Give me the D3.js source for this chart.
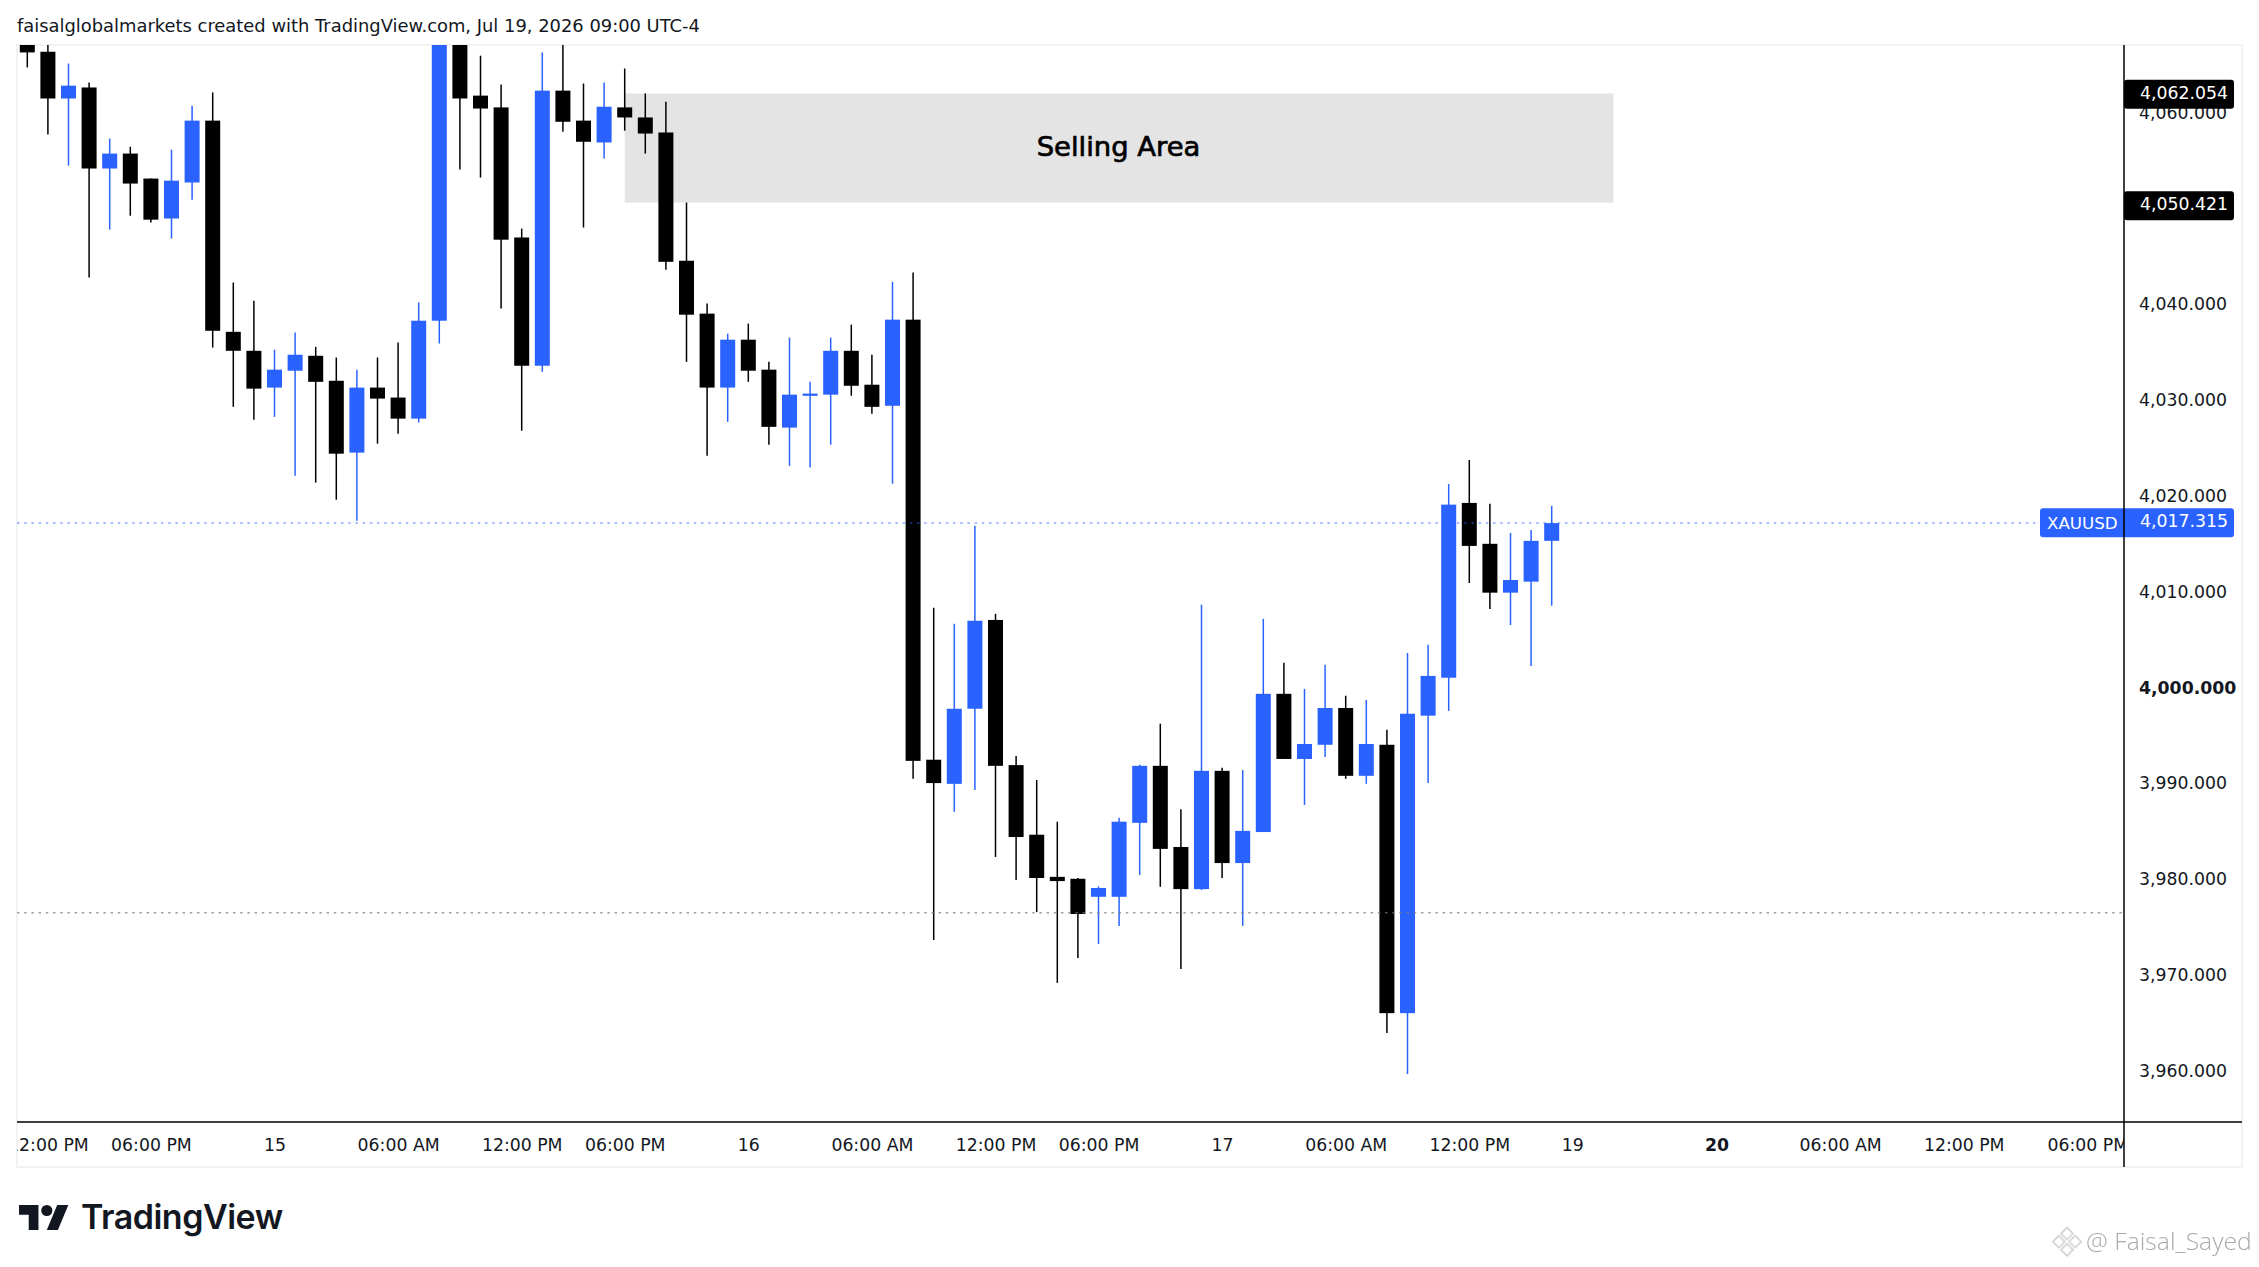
<!DOCTYPE html>
<html>
<head>
<meta charset="utf-8">
<script src="https://cdn.jsdelivr.net/npm/d3@7"></script>
<style>
  html, body { margin: 0; background: #fff; }
  svg { display: block; }
  text { font-family: "DejaVu Sans", sans-serif; fill: #131722; }
  .axis path, .axis line { display: none; }
</style>
</head>
<body>
<div id="chart"></div>
<script>
// XAUUSD candles
const opens = [4067.5,4066.23,4061.35,4062.5,4054.04,4055.6,4052.99,4048.82,4052.58,4059.04,
  4036.99,4035.01,4031.17,4032.93,4034.49,4031.88,4024.38,4031.17,4030.13,4027.93,
  4038.15,4069,4061.65,4060.42,4046.84,4033.45,4062.17,4059.04,4056.76,4060.42,
  4059.37,4057.8,4044.41,4038.89,4031.17,4036.17,4033.04,4026.99,4030.31,4030.43,
  4035.01,4031.47,4029.27,4038.26,3992.32,3989.8,3997.64,4006.91,3991.76,3984.49,
  3980.09,3979.89,3978.01,3978.01,3985.73,3991.68,3983.21,3978.81,3991.16,3981.53,
  3984.77,3999.2,3992.4,3993.88,3997.72,3990.64,3993.88,3965.86,3996.92,4000.88,
  4019.13,4014.86,4009.76,4010.91,4015.17];
const highs = [4069,4068.5,4065,4063.03,4057.17,4056.31,4052.99,4056.01,4060.6,4061.98,
  4042.14,4040.24,4035.13,4036.92,4035.42,4034.31,4033.04,4034.31,4035.87,4040.05,
  4070,4071,4065.82,4062.8,4047.77,4066.16,4068,4062.91,4063.03,4064.48,
  4061.87,4061.01,4050.49,4039.94,4036.8,4037.85,4033.86,4036.39,4031.77,4036.39,
  4037.74,4034.6,4042.21,4043.18,4008.19,4006.51,4016.74,4007.55,3992.72,3990.2,
  3985.85,3979.97,3979.09,3986.25,3991.8,3996.08,3987.16,4008.51,3991.48,3991.24,
  4007.03,4002.43,3999.71,4002.23,3999,3998.56,3995.44,4003.47,4004.31,4021.1,
  4023.61,4019.04,4016,4016.31,4018.82];
const lows = [4064.59,4057.58,4054.34,4042.66,4047.66,4049.11,4048.4,4046.73,4050.79,4035.35,
  4029.16,4027.82,4028.11,4021.96,4021.25,4019.46,4017.26,4025.32,4026.36,4027.52,
  4035.76,4053.93,4053.1,4039.42,4026.66,4032.81,4057.88,4047.88,4055.08,4057.99,
  4055.6,4043.48,4033.86,4024.05,4027.59,4031.77,4025.2,4023,4022.82,4025.2,
  4030.31,4028.45,4021.14,3990.32,3973.49,3986.88,3989.16,3982.17,3979.77,3976.41,
  3969.02,3971.62,3973.09,3974.97,3980.29,3979.05,3970.46,3978.73,3979.97,3974.97,
  3984.77,3992.4,3987.6,3992.6,3990.32,3989.8,3963.78,3959.5,3989.88,3997.41,
  4010.77,4008.05,4006.38,4002.11,4008.4];
const closes = [4066.16,4061.35,4062.69,4054.04,4055.6,4052.47,4048.7,4052.77,4059.04,4037.1,
  4035.01,4031.06,4033.04,4034.6,4031.77,4024.27,4031.17,4030.02,4027.93,4038.15,
  4069,4061.35,4060.3,4046.61,4033.45,4062.17,4058.92,4056.83,4060.49,4059.37,
  4057.69,4044.3,4038.78,4031.17,4036.17,4032.93,4027.07,4030.43,4030.54,4035.01,
  4031.36,4029.16,4038.26,3992.2,3989.88,3997.64,4006.83,3991.68,3984.25,3979.97,
  3979.65,3976.21,3978.93,3985.85,3991.68,3983.01,3978.81,3991.16,3981.53,3984.89,
  3999.2,3992.4,3993.96,3997.72,3990.64,3993.96,3965.86,3997.12,4001.07,4018.95,
  4014.64,4009.76,4011.08,4015.17,4017.02];

const priceTicks = [4060,4040,4030,4020,4010,4000,3990,3980,3970,3960];
const timeTickIndex = [1,6,12,18,24,29,35,41,47,52,58,64,70,75,82,88,94,100];
const timeTickLabels = ['12:00 PM','06:00 PM','15','06:00 AM','12:00 PM','06:00 PM','16','06:00 AM',
  '12:00 PM','06:00 PM','17','06:00 AM','12:00 PM','19','20','06:00 AM','12:00 PM','06:00 PM'];

// label values as printed on the price scale
const zoneTop = 4062.054;
const zoneBottom = 4050.421;
const lastPrice = 4017.315;
const zoneTopDrawn = 4061.87;
const zoneBottomDrawn = 4050.49;
const zoneStart = 29;
const zoneEnd = 77;
const lastLine = 4017.02;
const lowLine = 3976.35;

const width = 2259, height = 1267;
const pane = { left: 17, right: 2124, top: 45, bottom: 1122 };
const blue = '#2962ff';

const svg = d3.select('#chart').append('svg')
  .attr('width', width)
  .attr('height', height);

const xScale = d3.scaleLinear().domain([0, 74]).range([27.3, 1551.7]);
const yScale = d3.scaleLinear().domain([3960, 4040]).range([1069.3, 303]);

const defs = svg.append('defs');
defs.append('clipPath').attr('id', 'pane-clip').append('rect')
  .attr('x', pane.left).attr('y', pane.top)
  .attr('width', pane.right - pane.left).attr('height', pane.bottom - pane.top);
defs.append('clipPath').attr('id', 'time-clip').append('rect')
  .attr('x', pane.left).attr('y', pane.bottom)
  .attr('width', pane.right - pane.left).attr('height', 50);
defs.append('filter').attr('id', 'soft').append('feGaussianBlur').attr('stdDeviation', 0.5);

// Title
svg.append('text')
  .attr('x', 17).attr('y', 32)
  .style('font-size', '17.9px')
  .text('faisalglobalmarkets created with TradingView.com, Jul 19, 2026 09:00 UTC-4');

// Outer frame
svg.append('rect')
  .attr('x', 17).attr('y', 45)
  .attr('width', 2225).attr('height', 1122)
  .attr('fill', 'none')
  .attr('stroke', '#f2f2f3')
  .attr('stroke-width', 2);

const plot = svg.append('g').attr('clip-path', 'url(#pane-clip)');

// Selling zone
plot.append('rect')
  .attr('x', xScale(zoneStart))
  .attr('y', yScale(zoneTopDrawn))
  .attr('width', xScale(zoneEnd) - xScale(zoneStart))
  .attr('height', yScale(zoneBottomDrawn) - yScale(zoneTopDrawn))
  .attr('fill', '#e4e4e4');

plot.append('text')
  .attr('x', 1118.5)
  .attr('y', 156.2)
  .attr('text-anchor', 'middle')
  .style('font-size', '27.4px')
  .style('fill', '#000')
  .style('stroke', '#000')
  .style('stroke-width', 0.7)
  .text('Selling Area');

// Candles
const candles = d3.range(opens.length);
const colorOf = i => closes[i] >= opens[i] ? blue : '#000';

plot.selectAll('.wick')
  .data(candles)
  .enter()
  .append('line')
  .attr('class', 'wick')
  .attr('x1', i => xScale(i))
  .attr('x2', i => xScale(i))
  .attr('y1', i => yScale(highs[i]))
  .attr('y2', i => yScale(lows[i]))
  .attr('stroke', colorOf)
  .attr('stroke-width', 1.5);

plot.selectAll('.body')
  .data(candles)
  .enter()
  .append('rect')
  .attr('class', 'body')
  .attr('x', i => xScale(i) - 7.5)
  .attr('y', i => yScale(Math.max(opens[i], closes[i])))
  .attr('width', 15)
  .attr('height', i => Math.max(2, Math.abs(yScale(opens[i]) - yScale(closes[i]))))
  .attr('fill', colorOf);

// Dotted price lines, on top of the candles
plot.append('line')
  .attr('x1', pane.left).attr('x2', 2040)
  .attr('y1', yScale(lastLine)).attr('y2', yScale(lastLine))
  .attr('stroke', blue).attr('stroke-opacity', 0.55)
  .attr('stroke-width', 1.5).attr('stroke-dasharray', '2.5 4.7');
plot.append('line')
  .attr('x1', pane.left).attr('x2', pane.right)
  .attr('y1', yScale(lowLine)).attr('y2', yScale(lowLine))
  .attr('stroke', '#787878').attr('stroke-opacity', 0.7)
  .attr('stroke-width', 1.5).attr('stroke-dasharray', '2.5 4.7');

// Price axis
const yAxis = d3.axisRight(yScale)
  .tickValues(priceTicks)
  .tickSize(0)
  .tickPadding(15)
  .tickFormat(d3.format(',.3f'));

svg.append('g')
  .attr('class', 'axis')
  .attr('transform', `translate(${pane.right},0)`)
  .call(yAxis)
  .call(g => g.selectAll('text')
    .attr('dy', '0.4em')
    .style('font-size', '17.3px')
    .style('font-family', '"DejaVu Sans", sans-serif')
    .style('font-weight', d => d === 4000 ? 'bold' : 'normal'));

// Time axis
const xAxis = d3.axisBottom(xScale)
  .tickValues(timeTickIndex)
  .tickSize(0)
  .tickPadding(17)
  .tickFormat((d, i) => timeTickLabels[i]);

svg.append('g')
  .attr('class', 'axis')
  .attr('clip-path', 'url(#time-clip)')
  .append('g')
  .attr('transform', `translate(0,${pane.bottom})`)
  .call(xAxis)
  .call(g => g.selectAll('text')
    .style('font-size', '17.3px')
    .style('font-family', '"DejaVu Sans", sans-serif')
    .style('font-weight', (d, i) => timeTickLabels[i] === '20' ? 'bold' : 'normal'));

// Axis rules
svg.append('line')
  .attr('x1', pane.left).attr('x2', 2242)
  .attr('y1', pane.bottom).attr('y2', pane.bottom)
  .attr('stroke', '#000').attr('stroke-width', 1.5);
svg.append('line')
  .attr('x1', pane.right).attr('x2', pane.right)
  .attr('y1', pane.top).attr('y2', 1167)
  .attr('stroke', '#000').attr('stroke-width', 1.5);

// Price labels
function priceLabel(price, fill, left) {
  const cy = yScale(price) + 2.5;
  svg.append('rect')
    .attr('x', left).attr('y', cy - 14.5)
    .attr('width', 2234 - left).attr('height', 29)
    .attr('rx', 3)
    .attr('fill', fill);
  svg.append('text')
    .attr('x', 2140).attr('y', cy + 4.5)
    .style('font-size', '17.3px')
    .style('fill', '#fff')
    .text(d3.format(',.3f')(price));
}
priceLabel(zoneTop, '#000', pane.right);
priceLabel(zoneBottom, '#000', pane.right);
priceLabel(lastPrice, blue, 2040);
svg.append('text')
  .attr('x', 2047).attr('y', yScale(lastPrice) + 9)
  .style('font-size', '16.7px')
  .style('fill', '#fff')
  .text('XAUUSD');
svg.append('line')
  .attr('x1', pane.right).attr('x2', pane.right)
  .attr('y1', yScale(lastPrice) - 12).attr('y2', yScale(lastPrice) + 17)
  .attr('stroke', '#000').attr('stroke-width', 1.5);

// TradingView logo
const logo = svg.append('g').attr('transform', 'translate(19,1199.4) scale(1.39)');
logo.append('path').attr('d', 'M14 22H7V11H0V4h14v18zM28 22h-8l7.5-18h8L28 22z').attr('fill', '#131722');
logo.append('circle').attr('cx', 20).attr('cy', 8).attr('r', 4).attr('fill', '#131722');
svg.append('text')
  .attr('x', 81).attr('y', 1229)
  .style('font-family', 'Inter, sans-serif')
  .style('font-size', '34px')
  .style('font-weight', '600')
  .style('letter-spacing', '-0.5px')
  .text('TradingView');

// Watermark
const mark = svg.append('g')
  .attr('transform', 'translate(2067,1241.7) rotate(45)')
  .attr('fill', 'none')
  .attr('stroke', '#cfcfcf')
  .attr('stroke-width', 1.6)
  .attr('filter', 'url(#soft)');
[[-10, -10], [1.5, -10], [-10, 1.5], [1.5, 1.5]].forEach(([dx, dy]) => {
  mark.append('rect').attr('x', dx).attr('y', dy).attr('width', 8.5).attr('height', 8.5);
});
svg.append('text')
  .attr('x', 2086).attr('y', 1250)
  .attr('filter', 'url(#soft)')
  .style('font-family', '"Open Sans", sans-serif')
  .style('font-size', '24.7px')
  .style('font-weight', '300')
  .style('fill', '#aaa')
  .text('@ Faisal_Sayed');
</script>
</body>
</html>
